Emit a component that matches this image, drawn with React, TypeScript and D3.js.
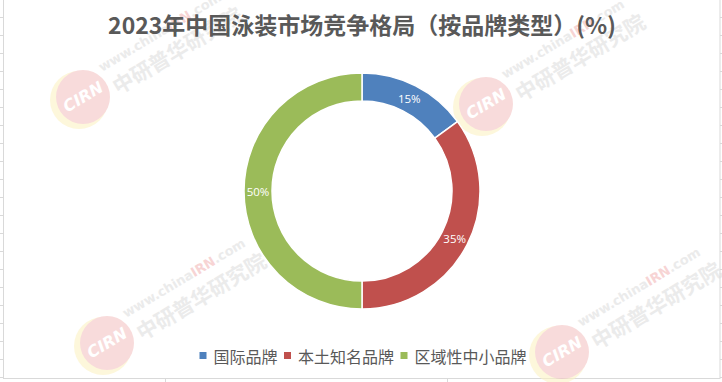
import React from "react";
import * as d3 from "d3";

const categories: string[] = ["国际品牌", "本土知名品牌", "区域性中小品牌"];
const shares: number[] = [15, 35, 50];
const colors: string[] = ["#4f81bd", "#c0504d", "#9bbb59"];
const titleText = "2023年中国泳装市场竞争格局（按品牌类型）(%)";

const W = 722;
const H = 382;
const CX = 362;
const CY = 191;
const R_OUT = 118;
const R_IN = 90;

const watermarks: [number, number][] = [
  [82, 97],
  [485, 104],
  [106, 343],
  [561, 352],
];

function Watermark({ x, y }: { x: number; y: number }) {
  return (
    <g transform={`translate(${x},${y})`} opacity={0.6}>
      <circle cx={-3} cy={3} r={29} fill="#fdf3c4" />
      <circle cx={1} cy={0} r={27} fill="#f5c4c4" />
      <g transform="rotate(-31)">
        <text
          x={1}
          y={6}
          textAnchor="middle"
          fontFamily="'DejaVu Sans', sans-serif"
          fontStyle="italic"
          fontWeight="bold"
          fontSize={16}
          fill="#ffffff"
        >
          CIRN
        </text>
        <text
          x={32}
          y={17}
          fontFamily="'Noto Sans CJK SC', sans-serif"
          fontWeight="bold"
          fontSize={21}
          fill="#dedede"
        >
          中研普华研究院
        </text>
        <text
          x={30}
          y={-11}
          fontFamily="'DejaVu Sans', sans-serif"
          fontWeight="bold"
          fontSize={13}
          fill="#dedede"
        >
          www.china<tspan fill="#f3b8b8">IRN</tspan>.com
        </text>
      </g>
    </g>
  );
}

export default function App() {
  const pie = d3
    .pie<number>()
    .sort(null)
    .value((d) => d)
    .startAngle(0)
    .endAngle(2 * Math.PI);
  const arcs = pie(shares);
  const arc = d3.arc<d3.PieArcDatum<number>>().innerRadius(R_IN).outerRadius(R_OUT);

  const rows = d3.range(17, H, 18);
  const cols = [165, 447];

  const fs = 16;
  const sq = 7;
  const gapSqText = 7;
  const gapItem = 6.5;
  const widths = categories.map((c) => sq + gapSqText + c.length * fs);
  const total = d3.sum(widths) + gapItem * (categories.length - 1);
  let lx = CX + 1 - total / 2;
  const legendItems = categories.map((c, i) => {
    const item = { x: lx, label: c, color: colors[i] };
    lx += widths[i] + gapItem;
    return item;
  });
  const legendY = 356;

  return (
    <svg
      width={W}
      height={H}
      style={{ position: "absolute", left: 0, top: 0, background: "#fff" }}
    >
      <rect x={0} y={0} width={W} height={H} fill="#ffffff" />
      {rows.map((r) => (
        <line key={"r" + r} x1={0} x2={W} y1={r + 0.5} y2={r + 0.5} stroke="#d9d9d9" />
      ))}
      {cols.map((c) => (
        <line key={"c" + c} x1={c + 0.5} x2={c + 0.5} y1={0} y2={H} stroke="#d9d9d9" />
      ))}
      <rect x={3.5} y={-5} width={716.5} height={383.5} fill="#ffffff" stroke="#d9d9d9" />

      {watermarks.map(([x, y], i) => (
        <Watermark key={i} x={x} y={y} />
      ))}

      <text
        x={CX}
        y={34}
        textAnchor="middle"
        fontFamily="'Noto Sans CJK SC', sans-serif"
        fontWeight="bold"
        fontSize={23}
        fill="#595959"
      >
        {titleText}
      </text>

      <g transform={`translate(${CX},${CY})`}>
        {arcs.map((a, i) => (
          <path key={i} d={arc(a) || ""} fill={colors[i]} stroke="#ffffff" strokeWidth={1.5} />
        ))}
        {arcs.map((a, i) => {
          const [x, y] = arc.centroid(a);
          return (
            <text
              key={"l" + i}
              x={x}
              y={y}
              textAnchor="middle"
              dominantBaseline="central"
              fontFamily="'Open Sans', sans-serif"
              fontSize={11.5}
              fill="#ffffff"
            >
              {shares[i]}%
            </text>
          );
        })}
      </g>

      {legendItems.map((it, i) => (
        <g key={"lg" + i}>
          <rect x={it.x} y={legendY - 4} width={sq} height={sq} fill={it.color} />
          <text
            x={it.x + sq + gapSqText}
            y={legendY}
            dominantBaseline="central"
            fontFamily="'Noto Sans CJK SC', sans-serif"
            fontSize={fs}
            fill="#595959"
          >
            {it.label}
          </text>
        </g>
      ))}
    </svg>
  );
}
